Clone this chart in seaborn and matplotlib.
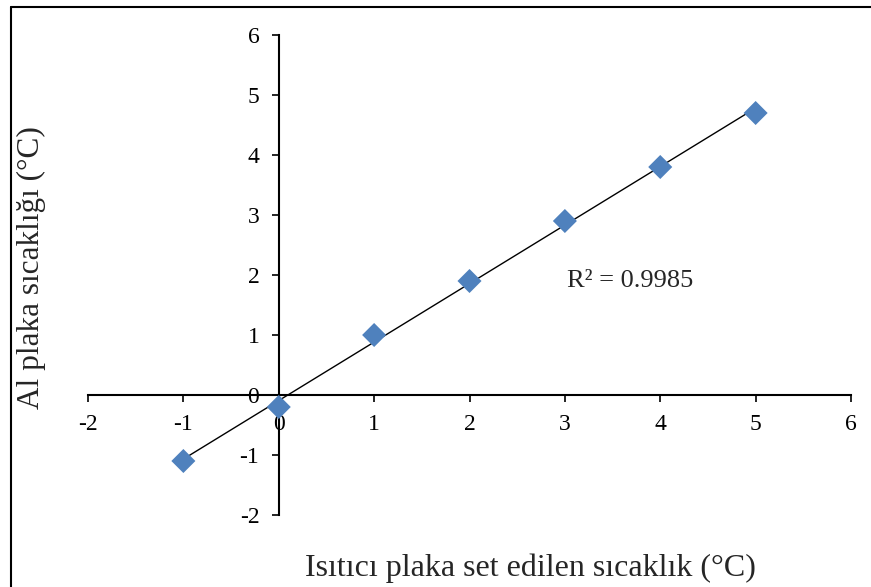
import numpy as np
import pandas as pd
import seaborn as sns
import matplotlib
matplotlib.use("Agg")
import matplotlib.pyplot as plt
from matplotlib.lines import Line2D

set_temp = [-1, 0, 1, 2, 3, 4, 5]
plate_temp = [-1.1, -0.2, 1.0, 1.9, 2.9, 3.8, 4.7]
ticks = [-2, -1, 0, 1, 2, 3, 4, 5, 6]
r2_label = "R² = 0.9985"
xlabel = "Isıtıcı plaka set edilen sıcaklık (°C)"
ylabel = "Al plaka sıcaklığı (°C)"

sns.set_style("white")
plt.rcParams['font.family'] = ['Liberation Serif', 'DejaVu Serif']

df = pd.DataFrame({"x": set_temp, "y": plate_temp})

fig = plt.figure(figsize=(8.71, 5.87), dpi=100)
ax = fig.add_axes([88/871, 1-515/587, (851-88)/871, (515-35)/587])

# trendline
coef = np.polyfit(df["x"], df["y"], 1)
xs = np.array([min(set_temp), max(set_temp)])
ax.plot(xs, np.polyval(coef, xs), color="black", lw=1.0, zorder=2)

sns.scatterplot(data=df, x="x", y="y", marker="D", s=150, color="#4F81BD",
                edgecolor="none", ax=ax, zorder=3)

ax.set_xlim(-2, 6)
ax.set_ylim(-2, 6)
ax.set_xticks(ticks)
ax.set_yticks(ticks)
ax.set_xticklabels([str(t) for t in ticks])
ax.set_yticklabels([str(t) for t in ticks])
ax.spines['left'].set_position(('data', 0))
ax.spines['bottom'].set_position(('data', 0))
ax.spines['right'].set_visible(False)
ax.spines['top'].set_visible(False)
for s in ['left', 'bottom']:
    ax.spines[s].set_linewidth(1.5)
    ax.spines[s].set_color("black")
ax.tick_params(axis='both', direction='out', length=5, width=1.2, labelsize=17,
               color="black", labelcolor="black", bottom=True, left=True)
ax.tick_params(axis='x', pad=9)
ax.tick_params(axis='y', pad=9)
ax.set_xlabel("")
ax.set_ylabel("")

ax.text(3.02, 1.9, r2_label, fontsize=19, va="center", ha="left")

fig.text(530/871, 1-568/587, xlabel, fontsize=23, ha="center", va="center")
fig.text(31/871, 1-268/587, ylabel, fontsize=22.5, ha="center", va="center", rotation=90)

# figure border (top and left)
fig.add_artist(Line2D([10.5/871, 1.0], [1-6.5/587, 1-6.5/587], color="black", lw=1.5,
                      transform=fig.transFigure))
fig.add_artist(Line2D([10.5/871, 10.5/871], [0, 1-6.5/587], color="black", lw=1.5,
                      transform=fig.transFigure))

fig.savefig("out.png", dpi=100)
